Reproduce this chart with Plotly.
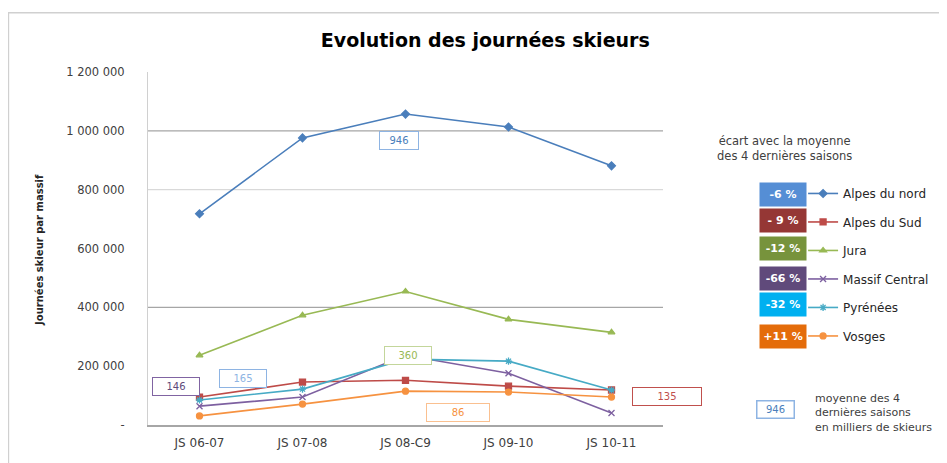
import plotly.graph_objects as go

saisons = ['JS 06-07', 'JS 07-08', 'JS 08-09', 'JS 09-10', 'JS 10-11']
saisons_labels = ['JS 06-07', 'JS 07-08', 'JS 08-C9', 'JS 09-10', 'JS 10-11']

alpes_nord = [718000, 976000, 1057000, 1013000, 881000]
alpes_sud = [95000, 146000, 152000, 132000, 119000]
jura = [237000, 373000, 454000, 359000, 315000]
massif_central = [64000, 95000, 237000, 176000, 41000]
pyrenees = [85000, 122000, 224000, 217000, 119000]
vosges = [31000, 71000, 115000, 112000, 95000]

noms = ['Alpes du nord', 'Alpes du Sud', 'Jura', 'Massif Central', 'Pyrénées', 'Vosges']
ecarts = ['-6 %', '- 9 %', '-12 %', '-66 %', '-32 %', '+11 %']
moyennes = ['946', '135', '360', '146', '165', '86']

y_ticks = [0, 200000, 400000, 600000, 800000, 1000000, 1200000]
y_ticktext = ['-', '200 000', '400 000', '600 000', '800 000', '1 000 000', '1 200 000']

line_colors = ['#4A7EBB', '#BE4B48', '#98B954', '#7D60A0', '#46AAC5', '#F69240']
box_colors = ['#558ED5', '#953735', '#77933C', '#604A7B', '#00B0F0', '#E46C0A']
symbols = ['diamond', 'square', 'triangle-up', 'x-thin-open', 'asterisk-open', 'circle']

FONT = 'DejaVu Sans'

fig = go.Figure()
series = [alpes_nord, alpes_sud, jura, massif_central, pyrenees, vosges]
for i, vals in enumerate(series):
    fig.add_trace(go.Scatter(
        x=saisons, y=vals, mode='lines+markers', name=noms[i],
        legendgroup=noms[i],
        line=dict(color=line_colors[i], width=1.6),
        marker=dict(symbol=symbols[i], size=6, color=line_colors[i],
                    line=dict(color=line_colors[i], width=1.3)),
    ))

# horizontal grid lines as in the original (only some are visible)
for yv, col in [(1000000, '#a6a6a6'), (800000, '#d9d9d9'), (400000, '#a6a6a6')]:
    fig.add_shape(type='line', xref='paper', yref='y', x0=0, x1=1, y0=yv, y1=yv,
                  line=dict(color=col, width=1.2), layer='below')

# outer chart frame
fig.add_shape(type='rect', xref='paper', yref='paper', x0=-0.271, x1=1.6, y0=-0.2, y1=1.168,
              line=dict(color='#d0d0d0', width=1.5))

# moyenne boxes on the plot (paper coords so they do not stretch the category axis)
boxes = [
    (0.487, 0.807, moyennes[0], '#8EB4E3', '#4A7EBB', 36),
    (0.505, 0.198, moyennes[2], '#C3D69B', '#98B954', 44),
    (0.054, 0.110, moyennes[3], '#8064A2', '#604A7B', 44),
    (0.184, 0.133, moyennes[4], '#8EB4E3', '#8EB4E3', 44),
    (0.602, 0.034, moyennes[5], '#FAC090', '#F69240', 60),
    (1.008, 0.082, moyennes[1], '#C0504D', '#C0504D', 66),
]
for bx, by, txt, border, tcol, w in boxes:
    fig.add_annotation(x=bx, y=by, xref='paper', yref='paper', text=txt, showarrow=False,
                       xanchor='center', yanchor='middle',
                       font=dict(family=FONT, size=10, color=tcol),
                       bordercolor=border, borderwidth=1, bgcolor='white',
                       width=w, height=15)

# percentage boxes next to the legend
row_y = [0.654, 0.578, 0.499, 0.416, 0.340, 0.252]
for i in range(6):
    fig.add_annotation(x=1.2335, y=row_y[i], xref='paper', yref='paper', text='<b>' + ecarts[i] + '</b>',
                       showarrow=False, xanchor='center', yanchor='middle',
                       font=dict(family=FONT, size=11, color='white'),
                       bgcolor=box_colors[i], width=44, height=21)

fig.add_annotation(x=1.235, y=0.782, xref='paper', yref='paper', xanchor='center', yanchor='middle',
                   text='écart avec la moyenne<br>des 4 dernières saisons', showarrow=False,
                   align='center', font=dict(family=FONT, size=11.5, color='#404040'))

fig.add_annotation(x=1.2175, y=0.0425, xref='paper', yref='paper', text=moyennes[0], showarrow=False,
                   xanchor='center', yanchor='middle',
                   font=dict(family=FONT, size=10, color='#4A7EBB'),
                   bordercolor='#8EB4E3', borderwidth=1.5, width=34, height=14)
fig.add_annotation(x=1.291, y=0.034, xref='paper', yref='paper', xanchor='left', yanchor='middle',
                   text='moyenne des 4<br>dernières saisons<br>en milliers de skieurs', showarrow=False,
                   align='left', font=dict(family=FONT, size=11, color='#404040'))

fig.add_annotation(x=-0.2097, y=0.496, xref='paper', yref='paper', text='<b>Journées skieur par massif</b>',
                   xanchor='center', yanchor='middle',
                   textangle=-90, showarrow=False, font=dict(family=FONT, size=10, color='#262626'))

fig.update_layout(
    width=947, height=463,
    margin=dict(l=140, r=292, t=64, b=46, autoexpand=False),
    title=dict(text='<b>Evolution des journées skieurs</b>', x=0.504, xanchor='center', xref='container',
               y=0.931, yanchor='middle', yref='container',
               font=dict(family=FONT, size=19, color='#000000')),
    plot_bgcolor='white', paper_bgcolor='white',
    showlegend=True,
    legend=dict(x=1.272, y=0.697, xanchor='left', yanchor='top', tracegroupgap=9.5,
                font=dict(family=FONT, size=12, color='#262626'), bgcolor='rgba(0,0,0,0)'),
    xaxis=dict(tickvals=saisons, ticktext=saisons_labels, range=[-0.5, 4.5], showgrid=False, showline=True,
               linecolor='#a6a6a6', linewidth=1.5, tickfont=dict(family=FONT, size=12, color='#404040'),
               ticklabelstandoff=6),
    yaxis=dict(range=[0, 1200000], tickvals=y_ticks, ticktext=y_ticktext, showgrid=False,
               showline=True, linecolor='#d0d0d0', linewidth=1, zeroline=False,
               tickfont=dict(family=FONT, size=11.5, color='#404040'), ticklabelstandoff=20),
)

fig.write_html('out.html')
